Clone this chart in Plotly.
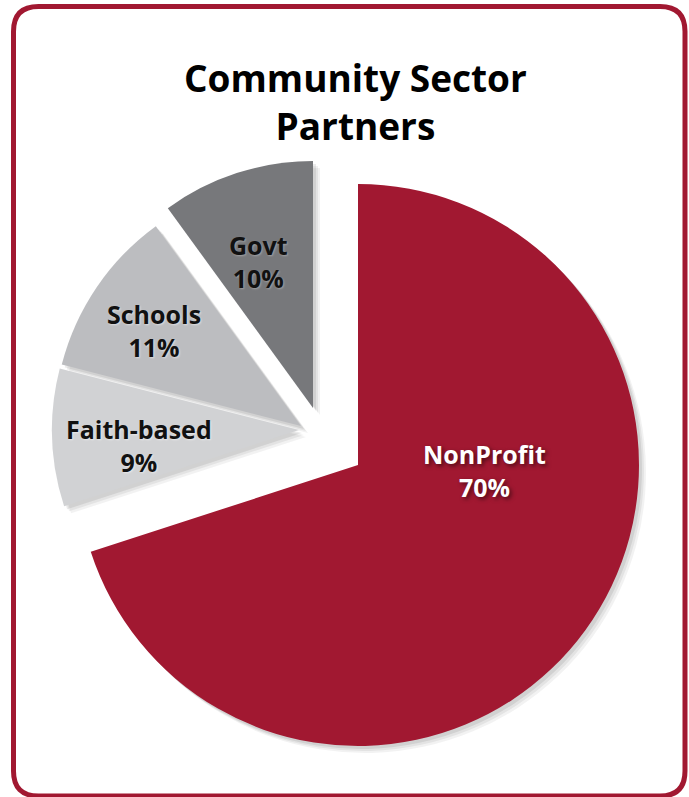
import plotly.graph_objects as go

# ---- data ----
labels = ["NonProfit", "Faith-based", "Schools", "Govt"]
values = [70, 9, 11, 10]
title_text = "Community Sector<br>Partners"

# ---- styling / layout (pixels) ----
W, H = 689, 797
colors = ["#A11831", "#D1D2D4", "#BCBDC0", "#77787B"]
text_colors = ["#FFFFFF", "#111111", "#111111", "#111111"]
text_shadows = ["2px 2px 4px rgba(0,0,0,0.55)", "1px 1px 2px rgba(255,255,255,0.5)",
                "1px 1px 2px rgba(255,255,255,0.5)", "1px 1px 2px rgba(255,255,255,0.3)"]
# each slice drawn as its own pie: centre x, centre y, radius (px)
slice_geom = [(358, 465, 281), (299, 430, 247), (301, 426, 247), (313, 408, 247)]
label_pos = [(484, 470), (139, 446), (154, 330), (258, 261)]
FONT = "Open Sans"
RED = "#A11831"


def dom(cx, cy, r):
    return dict(x=[(cx - r) / W, (cx + r) / W], y=[1 - (cy + r) / H, 1 - (cy - r) / H])


def pie_for(i, color, dx=0, dy=0, hover=True):
    cx, cy, r = slice_geom[i]
    cols = [color if j == i else "rgba(0,0,0,0)" for j in range(len(values))]
    return go.Pie(
        labels=labels, values=values, sort=False, direction="clockwise", rotation=0,
        marker=dict(colors=cols, line=dict(width=0)),
        textinfo="none", domain=dom(cx + dx, cy + dy, r), showlegend=False,
        hoverinfo="label+percent" if hover else "skip",
    )


fig = go.Figure()
# soft drop shadows
for off, a in [(7, 0.05), (5, 0.06), (3, 0.08)]:
    for i in range(len(values)):
        fig.add_trace(pie_for(i, f"rgba(0,0,0,{a})", off, off, hover=False))
# slices
for i in range(len(values)):
    fig.add_trace(pie_for(i, colors[i]))

annotations = [dict(
    text=title_text, x=355 / W, y=1 - 50 / H, xref="paper", yref="paper",
    xanchor="center", yanchor="top", showarrow=False,
    font=dict(family=FONT, size=37, color="#000000", weight=700),
)]
for i, (lab, val) in enumerate(zip(labels, values)):
    px, py = label_pos[i]
    annotations.append(dict(
        text=f"{lab}<br>{val}%", x=px / W, y=1 - py / H, xref="paper", yref="paper",
        xanchor="center", yanchor="middle", showarrow=False,
        font=dict(family=FONT, size=25, color=text_colors[i], weight=700, shadow=text_shadows[i]),
    ))

# rounded frame
x0, x1, y0, y1, rr = 13.5, 685, 6.5, 796, 25
X = lambda v: f"{v / W:.5f}"
Y = lambda v: f"{1 - v / H:.5f}"
path = (f"M {X(x0 + rr)},{Y(y0)} L {X(x1 - rr)},{Y(y0)} Q {X(x1)},{Y(y0)} {X(x1)},{Y(y0 + rr)} "
        f"L {X(x1)},{Y(y1 - rr)} Q {X(x1)},{Y(y1)} {X(x1 - rr)},{Y(y1)} "
        f"L {X(x0 + rr)},{Y(y1)} Q {X(x0)},{Y(y1)} {X(x0)},{Y(y1 - rr)} "
        f"L {X(x0)},{Y(y0 + rr)} Q {X(x0)},{Y(y0)} {X(x0 + rr)},{Y(y0)} Z")

fig.update_layout(
    width=W, height=H, margin=dict(l=0, r=0, t=0, b=0),
    paper_bgcolor="#FFFFFF", plot_bgcolor="#FFFFFF",
    annotations=annotations,
    shapes=[dict(type="path", path=path, xref="paper", yref="paper",
                 line=dict(color=RED, width=5), fillcolor="rgba(0,0,0,0)", layer="above")],
    font=dict(family=FONT),
)
fig.write_html("out.html", config={"displayModeBar": False},
               post_script="document.body.style.margin='0';document.body.style.overflow='hidden';")
